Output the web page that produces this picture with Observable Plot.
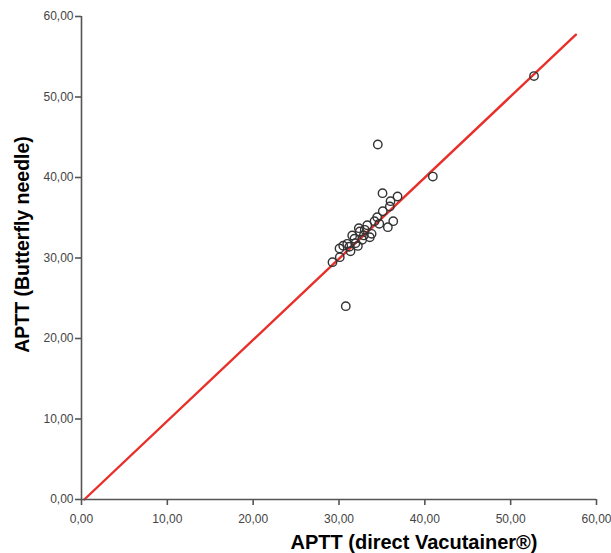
<!DOCTYPE html>
<html>
<head>
<meta charset="utf-8">
<script src="https://cdn.jsdelivr.net/npm/d3@7"></script>
<script src="https://cdn.jsdelivr.net/npm/@observablehq/plot@0.6"></script>
<style>
  html, body { margin: 0; padding: 0; background: #fff; }
  #chart { width: 611px; height: 553px; }
</style>
</head>
<body>
<div id="chart"></div>
<script>
// APTT measured with direct Vacutainer (x) vs butterfly needle (y)
const vacutainer = [34.52, 40.93, 52.72, 35.07, 36.82, 36.00, 35.92, 35.10, 34.45, 36.32, 35.69, 34.69, 34.14, 33.29, 32.31, 32.42, 31.54, 32.89, 33.59, 32.70, 31.92, 30.96, 30.49, 30.06, 31.34, 30.09, 29.24, 30.79, 33.00, 31.80, 33.80, 31.20, 32.20];
const butterfly  = [44.10, 40.12, 52.60, 38.05, 37.64, 37.06, 36.40, 35.81, 35.07, 34.57, 33.83, 34.25, 34.57, 34.07, 33.70, 33.29, 32.80, 32.80, 32.58, 32.26, 31.84, 31.76, 31.52, 31.18, 30.84, 30.10, 29.48, 24.01, 33.50, 32.40, 33.00, 31.40, 31.50];

// regression line end points
const fitX = [0.33, 57.60];
const fitY = [0.00, 57.74];

const tickValues = [0, 10, 20, 30, 40, 50, 60];
const xTitle = "APTT (direct Vacutainer®)";
const yTitle = "APTT (Butterfly needle)";

const points = vacutainer.map((v, i) => ({x: v, y: butterfly[i]}));
const fit = fitX.map((v, i) => ({x: v, y: fitY[i]}));

const fmt = d3.formatLocale({decimal: ",", thousands: ".", grouping: [3], currency: ["", ""]}).format(".2f");

const axisColor = "#555";

const chart = Plot.plot({
  width: 611,
  height: 553,
  marginLeft: 81,
  marginRight: 15,
  marginTop: 16,
  marginBottom: 54,
  style: {fontFamily: "'Liberation Sans', Arial, sans-serif", background: "#fff", overflow: "visible"},
  x: {domain: [0, 60]},
  y: {domain: [0, 60]},
  marks: [
    Plot.line(fit, {x: "x", y: "y", stroke: "#e8302a", strokeWidth: 2.4}),
    Plot.dot(points, {x: "x", y: "y", r: 4.2, stroke: "#333", strokeWidth: 1.4, fill: "none"}),
    Plot.ruleX([0], {stroke: axisColor, strokeWidth: 1.6}),
    Plot.ruleY([0], {stroke: axisColor, strokeWidth: 1.6}),
    Plot.axisX({ticks: tickValues, tickFormat: fmt, tickSize: 6, tickPadding: 9, fontSize: 12, stroke: axisColor, strokeWidth: 1.6, color: "#444", label: null}),
    Plot.axisY({ticks: tickValues, tickFormat: fmt, tickSize: 6, tickPadding: 2, fontSize: 12, stroke: axisColor, strokeWidth: 1.6, color: "#444", label: null}),
    Plot.text([xTitle], {frameAnchor: "bottom", text: d => d, textAnchor: "middle", dx: 75, dy: 43, lineAnchor: "middle", fontSize: 20, fontWeight: "bold", fill: "#000"}),
    Plot.text([yTitle], {frameAnchor: "left", text: d => d, textAnchor: "middle", rotate: -90, dx: -59, dy: -13.5, lineAnchor: "middle", fontSize: 19.5, fontWeight: "bold", fill: "#000"})
  ]
});
document.getElementById("chart").appendChild(chart);
</script>
</body>
</html>
